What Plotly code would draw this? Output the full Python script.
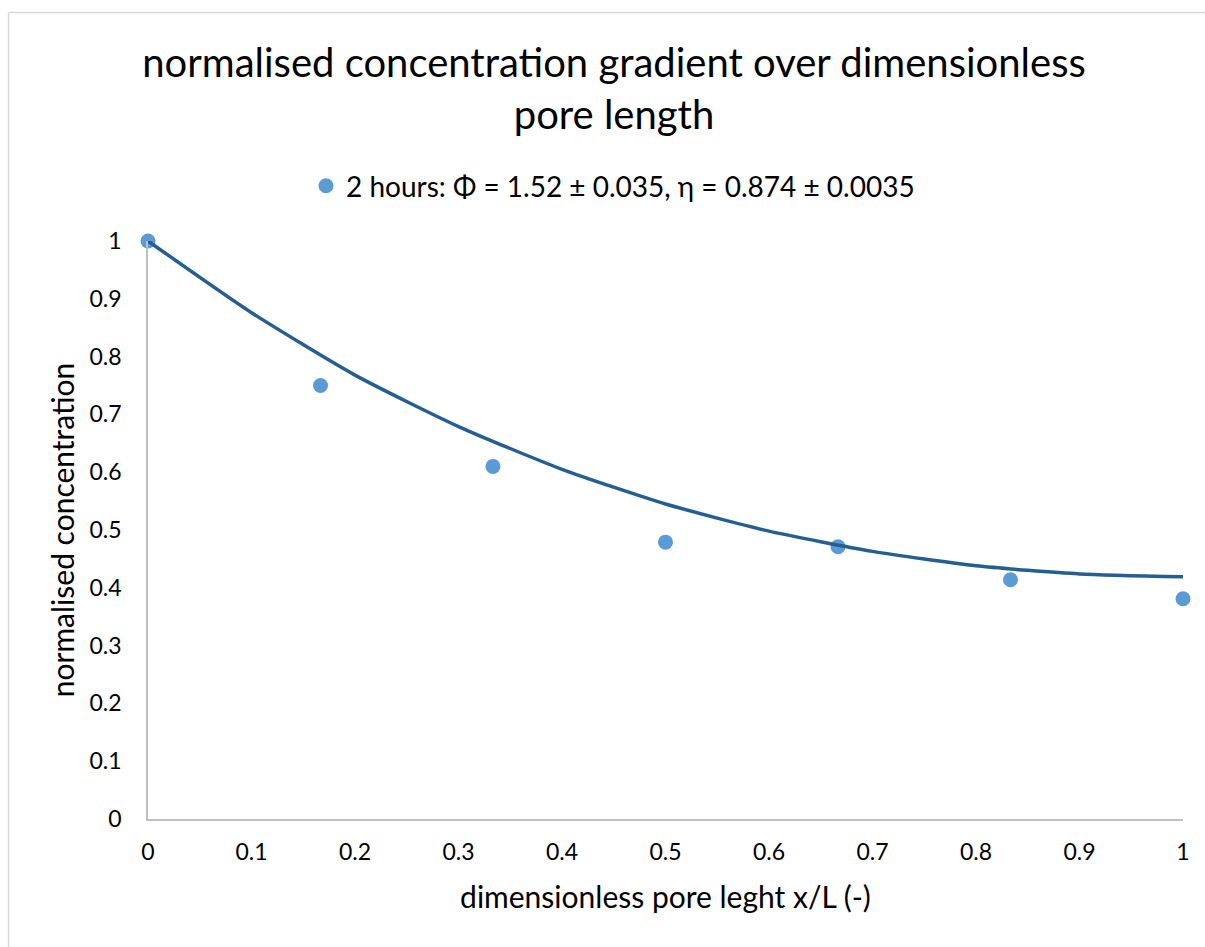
import plotly.graph_objects as go

# measured data points
x_data = [0.0, 0.1667, 0.3333, 0.5, 0.6667, 0.8333, 1.0]
y_data = [1.0, 0.750, 0.610, 0.479, 0.471, 0.414, 0.381]

# fitted model curve
x_fit = [0.0, 0.1, 0.2, 0.3, 0.4, 0.5, 0.6, 0.7, 0.8, 0.9, 1.0]
y_fit = [1.0, 0.876, 0.768, 0.679, 0.605, 0.545, 0.498, 0.463, 0.438, 0.424, 0.419]

x_ticks = [0, 0.1, 0.2, 0.3, 0.4, 0.5, 0.6, 0.7, 0.8, 0.9, 1]
y_ticks = [0, 0.1, 0.2, 0.3, 0.4, 0.5, 0.6, 0.7, 0.8, 0.9, 1]

FONT = "Lato"

fig = go.Figure()
fig.add_trace(go.Scatter(
    x=x_data, y=y_data, mode="markers",
    name="2 hours: \u03a6 = 1.52 \u00b1 0.035, \u03b7 = 0.874 \u00b1 0.0035",
    marker=dict(color="#5B9BD5", size=15),
    cliponaxis=False,
))
fig.add_trace(go.Scatter(
    x=x_fit, y=y_fit, mode="lines", showlegend=False,
    line=dict(color="#255E91", width=3.5, shape="spline", smoothing=0.6),
    cliponaxis=False,
))

W, H = 1205, 947
L, R, T, B = 148, 22, 241, 128
pw = W - L - R
ph = H - T - B

def px_to_paper_x(px):
    return (px - L) / pw

def px_to_paper_y(py):
    return (H - B - py) / ph

# chart-area border (only top and left edges are visible in the frame)
border = dict(color="#D9D9D9", width=1.5)
fig.add_shape(type="line", xref="paper", yref="paper",
              x0=px_to_paper_x(8.5), x1=px_to_paper_x(1205),
              y0=px_to_paper_y(12.5), y1=px_to_paper_y(12.5), line=border, layer="below")
fig.add_shape(type="line", xref="paper", yref="paper",
              x0=px_to_paper_x(8.5), x1=px_to_paper_x(8.5),
              y0=px_to_paper_y(12.5), y1=px_to_paper_y(947), line=border, layer="below")

fig.update_layout(
    width=W, height=H, autosize=False,
    margin=dict(l=L, r=R, t=T, b=B, autoexpand=False),
    paper_bgcolor="white", plot_bgcolor="white",
    font=dict(family=FONT, color="#000000"),
    title=dict(
        text="normalised concentration gradient over dimensionless<br>pore length",
        x=614 / W, xanchor="center", xref="container",
        y=1 - 77 / H, yanchor="middle", yref="container",
        font=dict(size=40, family=FONT, color="#000000"),
    ),
    legend=dict(
        orientation="h", x=px_to_paper_x(613), xanchor="center", xref="paper",
        y=px_to_paper_y(186), yanchor="middle", yref="paper",
        font=dict(size=28, family=FONT, color="#000000"),
        itemsizing="trace", itemwidth=30,
    ),
    xaxis=dict(
        range=[0, 1], tickvals=x_ticks, ticktext=[f"{v:g}" for v in x_ticks],
        showgrid=False, zeroline=False, showline=True, linecolor="#BFBFBF", linewidth=1.5,
        ticks="", tickfont=dict(size=23, family=FONT), ticklabelstandoff=12, tickangle=0,
        automargin=False,
        title=dict(text="dimensionless pore leght x/L (-)", font=dict(size=30, family=FONT), standoff=23),
    ),
    yaxis=dict(
        range=[0, 1], tickvals=y_ticks, ticktext=[f"{v:g}" for v in y_ticks],
        showgrid=False, zeroline=False, showline=True, linecolor="#BFBFBF", linewidth=1.5,
        ticks="", tickfont=dict(size=23, family=FONT), ticklabelstandoff=20,
        automargin=False,
        title=dict(text="normalised concentration", font=dict(size=30, family=FONT), standoff=6),
    ),
)

fig.write_html("out.html", config={"displayModeBar": False})
